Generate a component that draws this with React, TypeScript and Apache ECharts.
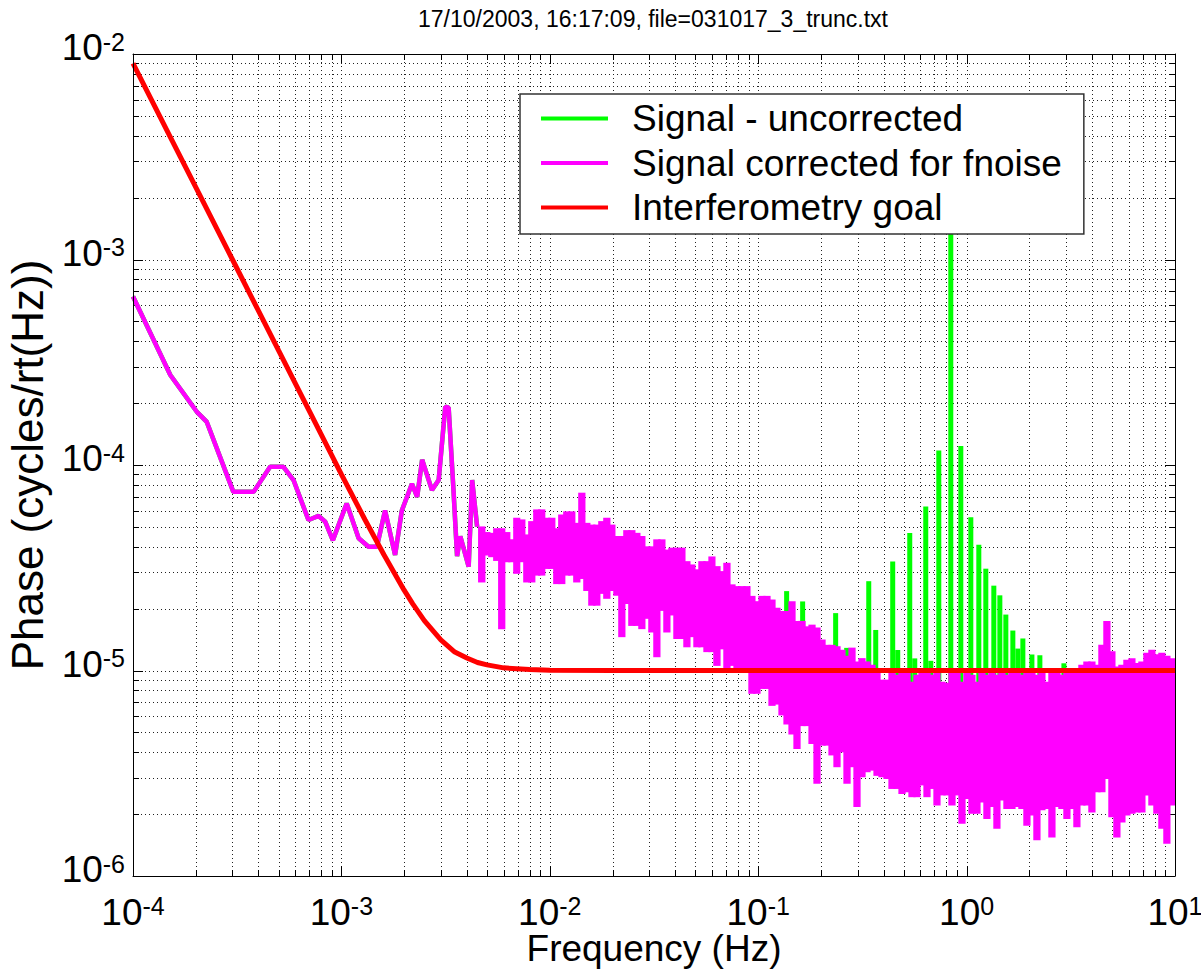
import React, { useEffect, useRef } from "react";
import * as echarts from "echarts";

const FONT = '"Liberation Sans", Arial, Helvetica, sans-serif';
const TITLE = "17/10/2003, 16:17:09, file=031017_3_trunc.txt";
const X_NAME = "Frequency (Hz)";
const Y_NAME = "Phase (cycles/rt(Hz))";
const NAME_UNCORR = "Signal - uncorrected";
const NAME_CORR = "Signal corrected for fnoise";
const NAME_GOAL = "Interferometry goal";

const X_MIN = 1e-4;
const X_MAX = 10;
const Y_MIN = 1e-6;
const Y_MAX = 1e-2;

const GREEN = "#00ff00";
const MAGENTA = "#ff00ff";
const RED = "#ff0000";

// Low-frequency part of the spectrum (smooth line)
const LOW_F = [
  1e-4, 1.51e-4, 2.02e-4, 2.26e-4, 3.03e-4, 3.79e-4, 4.55e-4, 5.27e-4, 5.89e-4, 6.95e-4,
  7.77e-4, 8.36e-4, 9.1e-4, 1.06e-3, 1.21e-3, 1.35e-3, 1.48e-3, 1.62e-3, 1.81e-3, 1.95e-3,
  2.18e-3, 2.31e-3, 2.44e-3, 2.72e-3, 2.93e-3, 3.15e-3, 3.27e-3, 3.45e-3, 3.59e-3, 3.72e-3,
  4.08e-3, 4.24e-3, 4.48e-3,
];
const LOW_V = [
  6.6e-4, 2.74e-4, 1.82e-4, 1.62e-4, 7.4e-5, 7.4e-5, 9.8e-5, 9.8e-5, 8.45e-5, 5.4e-5,
  5.65e-5, 5.3e-5, 4.3e-5, 6.5e-5, 4.4e-5, 4.0e-5, 4.0e-5, 6.0e-5, 3.65e-5, 6.0e-5,
  8.1e-5, 7.0e-5, 1.06e-4, 7.55e-5, 8.45e-5, 1.92e-4, 1.9e-4, 7.55e-5, 3.6e-5, 4.5e-5,
  3.2e-5, 8.45e-5, 5.0e-5,
];

// Dense noisy part: per frequency bin, min and max of the corrected signal
const BAND_F = [
  4.64e-3, 4.91e-3, 5.19e-3, 5.48e-3, 5.79e-3, 6.12e-3, 6.47e-3, 6.84e-3, 7.22e-3, 7.64e-3,
  8.07e-3, 8.53e-3, 9.01e-3, 9.52e-3, 1.007e-2, 1.064e-2, 1.124e-2, 1.188e-2, 1.256e-2, 1.327e-2,
  1.403e-2, 1.483e-2, 1.567e-2, 1.656e-2, 1.75e-2, 1.849e-2, 1.955e-2, 2.066e-2, 2.183e-2, 2.307e-2,
  2.438e-2, 2.577e-2, 2.724e-2, 2.878e-2, 3.042e-2, 3.215e-2, 3.398e-2, 3.591e-2, 3.795e-2, 4.011e-2,
  4.239e-2, 4.48e-2, 4.735e-2, 5.004e-2, 5.288e-2, 5.59e-2, 5.91e-2, 6.24e-2, 6.6e-2, 6.97e-2,
  7.37e-2, 7.79e-2, 8.23e-2, 8.7e-2, 9.19e-2, 9.71e-2, 0.1027, 0.1085, 0.1147, 0.1212,
  0.1281, 0.1354, 0.1431, 0.1512, 0.1598, 0.1689, 0.1785, 0.1886, 0.1993, 0.2107,
  0.2226, 0.2352, 0.2486, 0.2627, 0.2777, 0.2934, 0.3101, 0.3277, 0.3463, 0.366,
  0.3868, 0.4087, 0.4319, 0.4565, 0.4824, 0.5098, 0.5387, 0.5693, 0.6016, 0.6358,
  0.6719, 0.71, 0.7503, 0.7929, 0.838, 0.8855, 0.9358, 0.989, 1.045, 1.104,
  1.167, 1.233, 1.303, 1.377, 1.455, 1.538, 1.625, 1.718, 1.815, 1.918,
  2.027, 2.142, 2.264, 2.392, 2.528, 2.672, 2.823, 2.984, 3.153, 3.332,
  3.521, 3.721, 3.932, 4.156, 4.392, 4.641, 4.905, 5.183, 5.478, 5.789,
  6.117, 6.465, 6.832, 7.22, 7.63, 8.063, 8.521, 9.005, 9.516,
];
const BAND_LO = [
  2.75e-5, 3.72e-5, 3.65e-5, 3.5e-5, 1.63e-5, 3.45e-5, 3.45e-5, 3.03e-5, 3.45e-5, 2.75e-5,
  2.75e-5, 2.97e-5, 2.97e-5, 3.2e-5, 3.2e-5, 2.7e-5, 2.7e-5, 2.97e-5, 2.97e-5, 2.75e-5,
  2.86e-5, 2.5e-5, 2.12e-5, 2.12e-5, 2.42e-5, 2.29e-5, 2.5e-5, 2.37e-5, 1.49e-5, 2.16e-5,
  1.69e-5, 1.69e-5, 1.63e-5, 1.83e-5, 1.57e-5, 1.19e-5, 2.0e-5, 1.57e-5, 1.9e-5, 1.46e-5,
  1.46e-5, 1.33e-5, 1.49e-5, 1.33e-5, 1.33e-5, 1.26e-5, 1.26e-5, 1.08e-5, 1.3e-5, 1.04e-5,
  1.08e-5, 1.04e-5, 1.04e-5, 1.0e-5, 7.9e-6, 7.9e-6, 8.34e-6, 8.34e-6, 6.9e-6, 7.0e-6,
  6.2e-6, 5.6e-6, 5.0e-6, 4.26e-6, 5.5e-6, 5.5e-6, 4.5e-6, 2.88e-6, 4.42e-6, 4.42e-6,
  3.96e-6, 3.47e-6, 4.1e-6, 2.88e-6, 3.47e-6, 2.22e-6, 3.1e-6, 3.28e-6, 3.34e-6, 3.15e-6,
  3.1e-6, 3.04e-6, 2.72e-6, 2.72e-6, 2.57e-6, 2.62e-6, 2.48e-6, 2.48e-6, 2.83e-6, 2.48e-6,
  2.72e-6, 2.26e-6, 2.53e-6, 2.53e-6, 2.26e-6, 2.53e-6, 1.84e-6, 2.43e-6, 2.06e-6, 2.06e-6,
  2.34e-6, 1.94e-6, 2.22e-6, 1.74e-6, 2.39e-6, 2.17e-6, 2.17e-6, 2.22e-6, 2.17e-6, 1.8e-6,
  2.02e-6, 1.53e-6, 2.14e-6, 2.17e-6, 1.58e-6, 2.22e-6, 2.17e-6, 1.94e-6, 2.17e-6, 1.77e-6,
  2.26e-6, 2.26e-6, 2.09e-6, 2.62e-6, 2.62e-6, 3.04e-6, 1.98e-6, 1.58e-6, 1.87e-6, 2.02e-6,
  2.06e-6, 2.09e-6, 2.09e-6, 2.53e-6, 2.26e-6, 2.06e-6, 1.74e-6, 1.47e-6, 2.26e-6,
];
const BAND_HI = [
  4.9e-5, 4.6e-5, 4.56e-5, 4.8e-5, 4.8e-5, 4.6e-5, 4.24e-5, 5.4e-5, 5.3e-5, 4.48e-5,
  5.2e-5, 5.93e-5, 5.93e-5, 5.4e-5, 5.4e-5, 4.8e-5, 5.6e-5, 5.8e-5, 5.8e-5, 5.1e-5,
  7.15e-5, 5.1e-5, 5.0e-5, 5.0e-5, 5.2e-5, 5.4e-5, 5.0e-5, 4.4e-5, 4.4e-5, 4.7e-5,
  4.7e-5, 4.56e-5, 4.4e-5, 3.92e-5, 3.92e-5, 4.24e-5, 4.24e-5, 3.78e-5, 3.86e-5, 3.86e-5,
  3.86e-5, 3.32e-5, 3.2e-5, 3.03e-5, 3.32e-5, 3.32e-5, 3.5e-5, 3.14e-5, 2.97e-5, 3.26e-5,
  2.56e-5, 2.51e-5, 2.51e-5, 2.51e-5, 2.25e-5, 2.12e-5, 2.25e-5, 2.25e-5, 2.16e-5, 1.97e-5,
  1.9e-5, 1.9e-5, 2.12e-5, 1.7e-5, 1.7e-5, 1.6e-5, 1.63e-5, 1.58e-5, 1.38e-5, 1.3e-5,
  1.3e-5, 1.28e-5, 1.23e-5, 1.15e-5, 1.26e-5, 1.08e-5, 1.12e-5, 1.08e-5, 1.04e-5, 9.5e-6,
  8.8e-6, 8.8e-6, 9.5e-6, 9.3e-6, 9.5e-6, 9.5e-6, 8.6e-6, 9.3e-6, 9.5e-6, 9.5e-6,
  9.3e-6, 9.5e-6, 8.6e-6, 8.5e-6, 9.5e-6, 9.5e-6, 8.6e-6, 9.5e-6, 9.3e-6, 8.6e-6,
  9.5e-6, 9.3e-6, 9.5e-6, 9.3e-6, 9.5e-6, 9.3e-6, 9.5e-6, 9.5e-6, 9.3e-6, 9.5e-6,
  9.5e-6, 9.3e-6, 9.5e-6, 8.6e-6, 9.5e-6, 9.5e-6, 9.3e-6, 9.5e-6, 9.5e-6, 9.7e-6,
  1.04e-5, 1.08e-5, 1.08e-5, 1.04e-5, 1.3e-5, 1.7e-5, 1.21e-5, 1.02e-5, 1.04e-5, 1.1e-5,
  1.12e-5, 1.06e-5, 1.08e-5, 1.19e-5, 1.23e-5, 1.17e-5, 1.19e-5, 1.15e-5, 1.12e-5,
];

// Uncorrected-signal harmonics that stand above the corrected signal
const PEAK_F = [
  0.1369, 0.1634, 0.2353, 0.2658, 0.3392, 0.3664, 0.442, 0.4672, 0.5336, 0.5639,
  0.6368, 0.6732, 0.7355, 0.8397, 0.938, 1.0476, 1.1445, 1.2365, 1.3509, 1.4439,
  1.5427, 1.667, 1.762, 1.862, 2.0577, 2.247, 2.9307,
];
const PEAK_V = [
  2.38e-5, 2.12e-5, 1.86e-5, 1.26e-5, 2.66e-5, 1.54e-5, 3.32e-5, 1.23e-5, 4.56e-5, 1.12e-5,
  6.14e-5, 1.09e-5, 1.15e-4, 1.5e-3, 1.21e-4, 5.45e-5, 4.0e-5, 3.06e-5, 2.53e-5, 2.27e-5,
  1.83e-5, 1.53e-5, 1.25e-5, 1.4e-5, 1.17e-5, 1.16e-5, 1.06e-5,
];
const PEAK_BASE = 8e-6;

// Interferometry goal curve
const GOAL_F = [
  1e-4, 1.5e-4, 2e-4, 3e-4, 5e-4, 7e-4, 1e-3, 1.3e-3, 1.6e-3, 2e-3, 2.2e-3, 2.5e-3,
  3e-3, 3.5e-3, 4e-3, 4.5e-3, 5e-3, 6e-3, 8e-3, 1e-2, 2e-2, 10,
];
const GOAL_V = [
  9.0e-3, 4.0e-3, 2.25e-3, 1.0e-3, 3.6e-4, 1.84e-4, 9.0e-5, 5.4e-5, 3.66e-5, 2.46e-5, 2.11e-5, 1.75e-5,
  1.41e-5, 1.23e-5, 1.15e-5, 1.094e-5, 1.065e-5, 1.03e-5, 1.01e-5, 1.004e-5, 1.0e-5, 1.0e-5,
];

// Log grid definition
const GRID_MULTIPLIERS = [1, 2, 3, 4, 5, 6, 7, 8, 9];
const X_DECADES = [-4, -3, -2, -1, 0];
const Y_DECADES = [-6, -5, -4, -3];

function gridValues(decades: number[], min: number, max: number) {
  const out: number[][] = [];
  for (const e of decades) {
    for (const m of GRID_MULTIPLIERS) {
      const v = m * Math.pow(10, e);
      if (v > min * 1.0001 && v < max * 0.9999) out.push([v, m === 1 ? 1 : 0]);
    }
  }
  return out;
}

const GRID_COLOR = "#222";
const MAJOR_TICK = 10;
const MINOR_TICK = 6;
const LINE_W = 4.5;

function buildOption(): any {
  const xGrid = gridValues(X_DECADES, X_MIN, X_MAX).map(([v, maj]) => [v, 1e-4, maj]);
  const yGrid = gridValues(Y_DECADES, Y_MIN, Y_MAX).map(([v, maj]) => [1e-3, v, maj]);
  const lowData = LOW_F.map((f, i) => [f, LOW_V[i]]);
  const bandData = BAND_F.map((f, i) => [f, BAND_LO[i], BAND_HI[i]]);
  const peakData = PEAK_F.map((f, i) => [f, PEAK_V[i]]);
  const goalData = GOAL_F.map((f, i) => [f, GOAL_V[i]]);

  const rich = {
    b: {
      fontSize: 37,
      lineHeight: 37,
      fontFamily: FONT,
      color: "#000",
      verticalAlign: "bottom",
      padding: [13, 0, 0, 0],
    },
    e: {
      fontSize: 25,
      lineHeight: 25,
      fontFamily: FONT,
      color: "#000",
      verticalAlign: "top",
      padding: [0, 0, 25, 0],
    },
  };
  const fmt = (v: number) => `{b|10}{e|${Math.round(Math.log10(v))}}`;
  const axisLine = { show: true, onZero: false, lineStyle: { color: "#000", width: 1 } };

  const dotted = { stroke: GRID_COLOR, lineWidth: 1, lineDash: [1, 3] };
  const solid = { stroke: "#000", lineWidth: 1 };

  return {
    animation: false,
    backgroundColor: "#fff",
    title: {
      text: TITLE,
      left: 653,
      top: 7,
      textAlign: "center",
      padding: 0,
      textStyle: { fontSize: 23, fontWeight: "normal", fontFamily: FONT, color: "#000" },
    },
    grid: { left: 133, top: 54, right: 26, bottom: 103, containLabel: false, outerBoundsMode: "none" },
    legend: {
      orient: "vertical",
      left: 520,
      top: 94,
      z: 20,
      backgroundColor: "#fff",
      borderColor: "#333",
      borderWidth: 1.5,
      borderRadius: 0,
      padding: [6, 22, 8, 21],
      itemGap: 7.5,
      itemWidth: 67,
      itemHeight: 4,
      icon: "rect",
      selectedMode: false,
      textStyle: { fontSize: 37, lineHeight: 37, fontFamily: FONT, color: "#000", padding: [0, 0, 0, 19] },
      data: [NAME_UNCORR, NAME_CORR, NAME_GOAL],
    },
    xAxis: [
      {
        type: "log",
        logBase: 10,
        min: X_MIN,
        max: X_MAX,
        position: "bottom",
        z: 10,
        axisLine,
        axisTick: { show: false },
        splitLine: { show: false },
        minorTick: { show: false },
        minorSplitLine: { show: false },
        axisLabel: { formatter: fmt, margin: 17.5, rich, color: "#000", showMinLabel: true, showMaxLabel: true },
        name: X_NAME,
        nameLocation: "middle",
        nameGap: 54,
        nameMoveOverlap: false,
        nameTextStyle: { fontSize: 37, fontFamily: FONT, color: "#000" },
      },
      {
        type: "log",
        logBase: 10,
        min: X_MIN,
        max: X_MAX,
        position: "top",
        z: 10,
        axisLine,
        axisTick: { show: false },
        splitLine: { show: false },
        axisLabel: { show: false },
      },
    ],
    yAxis: [
      {
        type: "log",
        logBase: 10,
        min: Y_MIN,
        max: Y_MAX,
        position: "left",
        z: 10,
        axisLine,
        axisTick: { show: false },
        splitLine: { show: false },
        minorTick: { show: false },
        minorSplitLine: { show: false },
        axisLabel: {
          formatter: fmt,
          margin: 8,
          rich,
          color: "#000",
          padding: [0, 0, 13, 0],
          showMinLabel: true,
          showMaxLabel: true,
        },
        name: Y_NAME,
        nameLocation: "middle",
        nameRotate: 90,
        nameGap: 84,
        nameMoveOverlap: false,
        nameTextStyle: { fontSize: 44, fontFamily: FONT, color: "#000" },
      },
      {
        type: "log",
        logBase: 10,
        min: Y_MIN,
        max: Y_MAX,
        position: "right",
        z: 10,
        axisLine,
        axisTick: { show: false },
        splitLine: { show: false },
        axisLabel: { show: false },
      },
    ],
    series: [
      {
        type: "custom",
        silent: true,
        z: 1,
        data: xGrid,
        renderItem: (params: any, api: any) => {
          const cs = params.coordSys;
          const px = Math.round(api.coord([api.value(0), 1e-4])[0]) + 0.5;
          const t = api.value(2) === 1 ? MAJOR_TICK : MINOR_TICK;
          const y0 = cs.y;
          const y1 = cs.y + cs.height;
          return {
            type: "group",
            children: [
              { type: "line", shape: { x1: px, y1: y0, x2: px, y2: y1 }, style: dotted },
              { type: "line", shape: { x1: px, y1: y1, x2: px, y2: y1 - t }, style: solid },
              { type: "line", shape: { x1: px, y1: y0, x2: px, y2: y0 + t }, style: solid },
            ],
          };
        },
      },
      {
        type: "custom",
        silent: true,
        z: 1,
        data: yGrid,
        renderItem: (params: any, api: any) => {
          const cs = params.coordSys;
          const py = Math.round(api.coord([1e-3, api.value(1)])[1]) + 0.5;
          const t = api.value(2) === 1 ? MAJOR_TICK : MINOR_TICK;
          const x0 = cs.x;
          const x1 = cs.x + cs.width;
          return {
            type: "group",
            children: [
              { type: "line", shape: { x1: x0, y1: py, x2: x1, y2: py }, style: dotted },
              { type: "line", shape: { x1: x0, y1: py, x2: x0 + t, y2: py }, style: solid },
              { type: "line", shape: { x1: x1, y1: py, x2: x1 - t, y2: py }, style: solid },
            ],
          };
        },
      },
      {
        name: NAME_UNCORR,
        type: "line",
        data: lowData,
        symbol: "none",
        z: 2,
        itemStyle: { color: GREEN },
        lineStyle: { color: GREEN, width: LINE_W },
      },
      {
        name: NAME_UNCORR,
        type: "custom",
        z: 2,
        clip: true,
        itemStyle: { color: GREEN },
        data: peakData,
        renderItem: (params: any, api: any) => {
          const f = api.value(0);
          const pTop = api.coord([f, api.value(1)]);
          const pBot = api.coord([f, PEAK_BASE]);
          return {
            type: "rect",
            shape: { x: pTop[0] - 2.5, y: pTop[1] - 2, width: 5, height: pBot[1] - pTop[1] + 2 },
            style: { fill: GREEN },
          };
        },
      },
      {
        name: NAME_CORR,
        type: "line",
        data: lowData,
        symbol: "none",
        z: 3,
        itemStyle: { color: MAGENTA },
        lineStyle: { color: MAGENTA, width: LINE_W },
      },
      {
        name: NAME_CORR,
        type: "custom",
        z: 3,
        clip: true,
        itemStyle: { color: MAGENTA },
        data: bandData,
        renderItem: (params: any, api: any) => {
          const i = params.dataIndex;
          const f = api.value(0);
          const fNext = i + 1 < BAND_F.length ? BAND_F[i + 1] : X_MAX;
          const pHi = api.coord([f, api.value(2)]);
          const pLo = api.coord([f, api.value(1)]);
          const xNext = api.coord([fNext, api.value(2)])[0];
          const h = LINE_W / 2;
          return {
            type: "rect",
            shape: {
              x: pHi[0] - h,
              y: pHi[1] - h,
              width: xNext - pHi[0] + h,
              height: pLo[1] - pHi[1] + 2 * h,
            },
            style: { fill: MAGENTA },
          };
        },
      },
      {
        name: NAME_GOAL,
        type: "line",
        data: goalData,
        symbol: "none",
        z: 4,
        itemStyle: { color: RED },
        lineStyle: { color: RED, width: 5 },
      },
    ],
  };
}

export default function App() {
  const ref = useRef<HTMLDivElement>(null);
  useEffect(() => {
    if (!ref.current) return;
    const chart = echarts.init(ref.current, null, { renderer: "svg", width: 1201, height: 979 });
    chart.setOption(buildOption());
    return () => chart.dispose();
  }, []);
  return (
    <div
      ref={ref}
      style={{ position: "absolute", left: 0, top: 0, width: 1201, height: 979, background: "#fff" }}
    />
  );
}
